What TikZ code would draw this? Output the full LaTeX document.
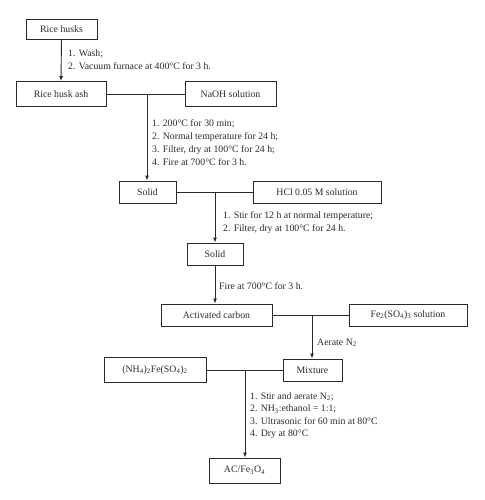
\documentclass[tikz,border=0pt]{standalone}
\usepackage{fontspec}
\setmainfont{Liberation Serif}
\usetikzlibrary{arrows.meta}
\definecolor{ink}{HTML}{2A2A2A}
\begin{document}
\begin{tikzpicture}[x=1pt,y=-1pt,
  box/.style={draw=ink,line width=0.9pt,inner sep=0pt,text=ink,font=\fontsize{9.8}{13}\selectfont},
  lbl/.style={anchor=west,align=left,inner sep=0pt,text=ink,font=\fontsize{9.8}{13}\selectfont},
  link/.style={draw=ink,line width=0.9pt},
  arr/.style={draw=ink,line width=0.9pt,-{Latex[length=5pt,width=4pt]}}]
\useasboundingbox (0,0) rectangle (484,500);
\node[box,minimum width=71pt,minimum height=20pt] (rh) at (61.5,29) {Rice husks};
\node[box,minimum width=90pt,minimum height=25pt] (rha) at (61,94) {Rice husk ash};
\node[box,minimum width=91pt,minimum height=25pt] (naoh) at (230.5,94) {NaOH solution};
\node[box,minimum width=57pt,minimum height=22pt] (s1) at (147.5,192) {Solid};
\node[box,minimum width=128pt,minimum height=22pt] (hcl) at (317,192) {HCl 0.05 M solution};
\node[box,minimum width=56pt,minimum height=22pt] (s2) at (215,254) {Solid};
\node[box,minimum width=111pt,minimum height=22pt] (ac) at (216.5,315) {Activated carbon};
\node[box,minimum width=118pt,minimum height=22pt] (fe) at (408,315) {Fe\textsubscript{2}(SO\textsubscript{4})\textsubscript{3} solution};
\node[box,minimum width=59pt,minimum height=22pt] (mix) at (312.5,370) {Mixture};
\node[box,minimum width=102pt,minimum height=25pt] (nh) at (155,370) {(NH\textsubscript{4})\textsubscript{2}Fe(SO\textsubscript{4})\textsubscript{2}};
\node[box,minimum width=71pt,minimum height=25pt] (acfe) at (244.5,470.5) {AC/Fe\textsubscript{3}O\textsubscript{4}};

\coordinate (j1) at (147,94);
\coordinate (j2) at (215,192);
\coordinate (j3) at (312,315);
\coordinate (j4) at (245,370);

\draw[arr] (rh.south) -- (rha.north);
\draw[link] (rha.east) -- (naoh.west);
\draw[arr] (j1) -- (j1 |- s1.north);
\draw[link] (s1.east) -- (hcl.west);
\draw[arr] (j2) -- (j2 |- s2.north);
\draw[arr] (s2.south) -- (s2.south |- ac.north);
\draw[link] (ac.east) -- (fe.west);
\draw[arr] (j3) -- (j3 |- mix.north);
\draw[link] (nh.east) -- (mix.west);
\draw[arr] (j4) -- (j4 |- acfe.north);

\node[lbl] (l1) at (68,60) {1. Wash;\\2. Vacuum furnace at 400°C for 3 h.};
\node[lbl] (l2) at (152,142.5) {1. 200°C for 30 min;\\2. Normal temperature for 24 h;\\3. Filter, dry at 100°C for 24 h;\\4. Fire at 700°C for 3 h.};
\node[lbl] (l3) at (223,223) {1. Stir for 12 h at normal temperature;\\2. Filter, dry at 100°C for 24 h.};
\node[lbl] (l4) at (219,286) {Fire at 700°C for 3 h.};
\node[lbl] (l5) at (317,343) {Aerate N\textsubscript{2}};
\node[lbl,font=\fontsize{9.8}{12.5}\selectfont] (l6) at (250,415.5) {1. Stir and aerate N\textsubscript{2};\\2. NH\textsubscript{3}:ethanol = 1:1;\\3. Ultrasonic for 60 min at 80°C\\4. Dry at 80°C};
\end{tikzpicture}
\end{document}
